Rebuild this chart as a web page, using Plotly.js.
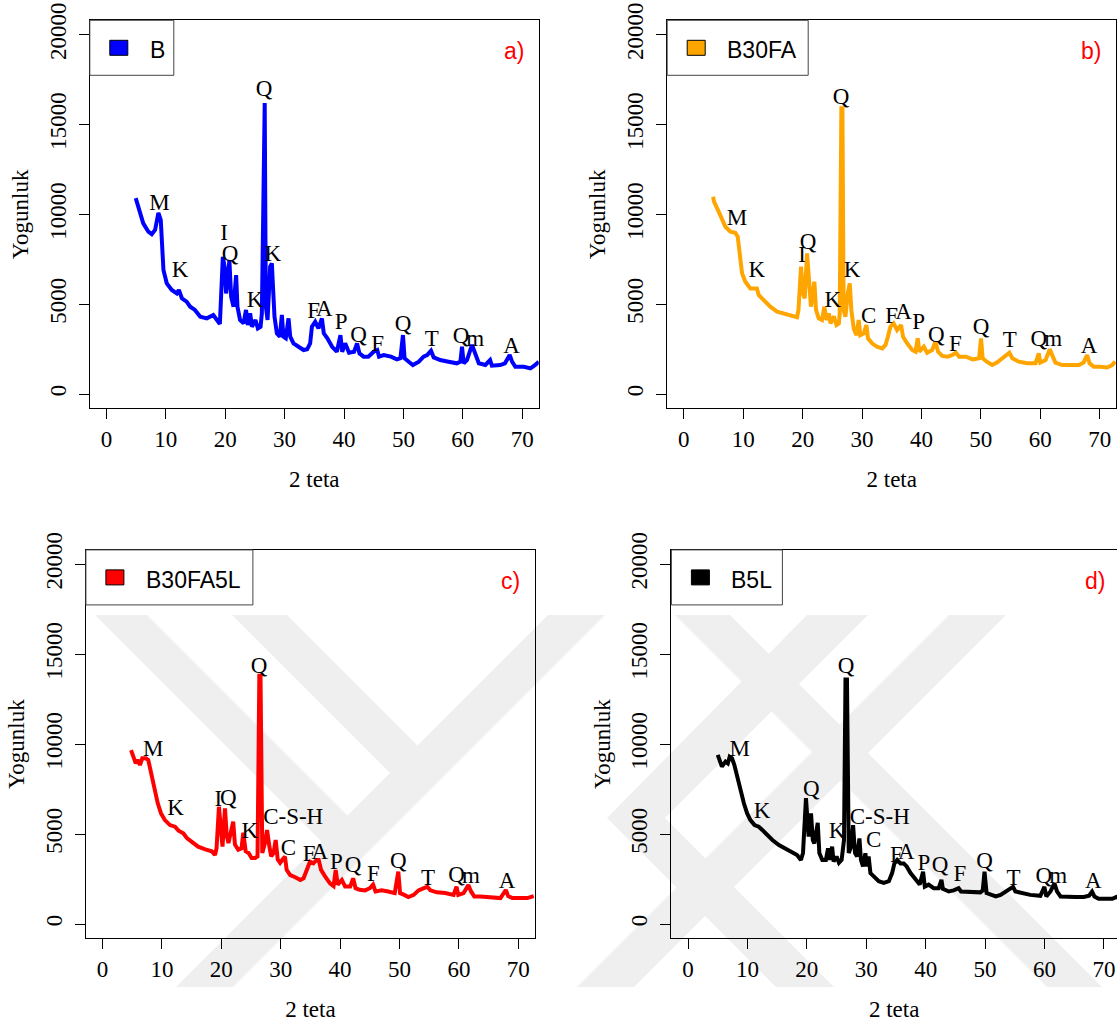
<!DOCTYPE html>
<html>
<head>
<meta charset="utf-8">
<script src="https://cdn.plot.ly/plotly-3.0.1.min.js"></script>
<style>
html,body{margin:0;padding:0;background:#fff;overflow:hidden;}
#chart{width:1117px;height:1022px;}
</style>
</head>
<body>
<div id="chart"></div>
<script>
// ---------------- DATA ----------------
const seriesNames = ["B", "B30FA", "B30FA5L", "B5L"];
const panelTags = ["a)", "b)", "c)", "d)"];
const seriesColors = ["#0000FF", "#FFA500", "#FF0000", "#000000"];

const xTicks = [0, 10, 20, 30, 40, 50, 60, 70];
const yTicks = [0, 5000, 10000, 15000, 20000];
const yTickText = ["0", "5000", "10000", "15000", "20000"];

// Panel a) B
const xB = [4.93,5.66,6.2,7.06,7.63,8.19,8.75,9.15,9.32,9.6,
  10.16,11.0,11.85,12.2,12.7,13.5,14.1,14.9,15.8,16.9,
  18.0,18.86,19.1,19.6,19.9,20.15,20.44,20.7,21.0,21.4,
  21.84,22.06,22.5,23.1,23.5,23.8,24.2,24.5,25.1,25.5,
  25.95,26.17,26.5,26.65,26.84,27.13,27.57,27.85,28.1,28.3,
  28.7,29.2,29.54,29.8,30.2,30.66,30.95,31.5,32.35,33.2,
  33.8,34.3,34.6,35.15,35.7,36.28,36.6,37.2,38.0,38.8,
  39.4,39.7,40.2,40.85,41.7,42.2,42.6,43.3,44.1,45.0,
  45.6,45.9,46.7,47.9,48.9,49.5,49.93,50.2,50.9,51.6,
  52.6,53.4,54.0,54.65,55.1,56.2,57.6,59.0,59.6,59.87,
  60.15,60.7,61.56,62.1,62.7,63.8,64.6,64.9,66.3,67.1,
  67.9,68.3,68.85,70.3,71.4,72.2,72.8];
const yB = [10900,10058,9500,9034,8890,9128,10080,9685,8200,6900,
  6160,5790,5600,5790,5330,5140,4860,4680,4300,4210,
  4400,4020,3900,7640,7090,5600,6345,7460,5415,4860,
  6620,4860,4120,3930,4680,3840,4490,3740,4120,3650,
  3740,4490,16200,16200,4860,4120,7090,7270,5600,4300,
  3380,3190,4400,3190,3100,4210,3190,2820,2630,2450,
  2490,2820,3750,4020,3650,4210,3380,3100,2630,2355,
  3280,2355,2820,2300,2355,2820,2260,2080,2080,2355,
  2450,2080,2170,2080,1930,1990,3280,1990,1800,1615,
  1800,2080,2170,2410,2040,1890,1800,1710,1800,2630,
  1710,1890,2730,2260,1710,1615,1890,1580,1615,1710,
  2170,1800,1520,1520,1430,1615,1800];

// Panel b) B30FA
const xB30FA = [4.92,5.1,5.87,6.43,7.0,7.83,8.67,9.07,9.4,9.8,
  10.35,11.2,12.3,12.6,13.45,14.56,15.7,16.8,17.9,19.06,
  19.3,19.73,20.07,20.35,20.74,21.0,21.4,21.97,22.25,22.7,
  23.25,23.66,24.0,24.4,24.7,25.25,25.7,26.1,26.24,26.52,
  26.7,26.9,27.2,27.6,27.93,28.2,28.6,29.05,29.44,29.7,
  30.3,30.73,31.0,31.7,32.5,33.4,33.95,34.35,34.77,35.3,
  35.9,36.57,36.9,37.6,38.45,39.0,39.37,39.65,40.4,40.95,
  41.8,42.35,42.8,43.5,44.4,45.2,45.8,46.35,47.5,48.6,
  49.7,50.03,50.3,51.0,51.9,52.7,53.6,54.15,54.8,55.3,
  56.4,57.8,59.2,59.75,60.0,60.9,61.6,62.0,62.55,63.7,
  65.1,66.5,67.3,67.88,68.3,69.0,70.1,71.25,72.1,72.6];
const yB30FA = [10980,10700,10150,9685,9310,9034,8980,8760,7640,6720,
  6250,5880,5880,5510,5230,4860,4580,4490,4400,4270,
  4680,7090,5600,5320,7830,6350,4860,6250,4680,4210,
  4120,4860,4120,4490,3930,4330,3840,3930,4490,15900,
  15900,4680,4300,5600,6160,4680,3650,3280,4120,3280,
  3380,3840,3100,2820,2630,2540,2730,3190,3750,3930,
  3560,3840,3190,2820,2450,2355,3100,2355,2630,2300,
  2450,2910,2355,2120,2080,2170,2300,2080,2080,1930,
  1990,3100,1990,1800,1615,1750,1990,2120,2300,1990,
  1800,1710,1710,2260,1750,1890,2490,2170,1750,1615,
  1615,1615,1750,2170,1710,1520,1520,1480,1615,1800];

// Panel c) B30FA5L
const xB30FA5L = [4.8,5.1,5.6,5.9,6.3,6.7,7.27,7.7,8.16,8.73,
  9.3,9.85,10.5,11.36,12.2,12.8,13.6,14.2,15.0,16.1,
  17.3,18.4,18.94,19.2,19.6,20.0,20.2,20.62,20.9,21.2,
  22.0,22.3,22.85,23.4,23.7,24.1,24.6,25.1,25.7,26.1,
  26.4,26.6,26.9,27.35,27.7,28.1,28.4,28.8,29.15,29.5,
  29.9,30.5,30.72,31.0,31.6,32.45,33.3,33.85,34.4,34.93,
  35.5,36.05,36.4,36.8,37.5,38.3,38.9,39.26,39.6,40.3,
  40.85,41.7,42.2,42.6,43.3,44.2,45.0,45.55,45.96,47.0,
  48.1,49.2,49.8,50.1,50.8,51.5,52.4,53.2,54.1,54.7,
  55.2,56.3,57.7,59.1,59.6,59.9,60.8,61.6,62.05,62.6,
  63.6,65.0,66.1,67.0,67.9,68.3,69.0,70.1,71.5,72.6];
const yB30FA5L = [9670,9400,8930,9120,8840,9210,9210,9120,8380,7450,
  6710,6150,5780,5500,5410,5190,5040,4780,4600,4300,
  4150,4040,3840,4210,6520,5040,4300,6430,4970,4500,
  5690,4410,4130,4210,5080,4040,3950,3670,3670,3760,
  13800,13800,3950,4500,5230,4300,3760,3950,4670,3580,
  3400,3670,3740,3010,2720,2600,2450,2540,3100,3460,
  3370,3560,3560,3010,2630,2260,2110,3000,2190,2450,
  2080,2080,2540,1990,1900,1870,1990,2190,1810,1870,
  1810,1720,2910,1720,1620,1500,1620,1870,1990,2070,
  1870,1760,1720,1620,2070,1620,1720,2170,1810,1530,
  1530,1500,1500,1440,1890,1550,1440,1440,1440,1550];

// Panel d) B5L
const xB5L = [5.0,5.3,5.7,6.3,6.7,7.0,7.4,7.8,8.25,8.8,
  9.4,9.95,10.5,11.2,11.9,12.5,13.3,14.2,15.3,16.4,
  17.5,18.35,19.0,19.35,19.85,20.05,20.3,20.7,21.0,21.25,
  21.83,22.1,22.6,23.2,23.57,23.85,24.25,24.5,25.0,25.4,
  25.85,26.25,26.5,26.75,27.05,27.45,27.78,28.1,28.45,28.85,
  29.1,29.45,29.85,30.1,30.4,30.7,31.25,32.1,32.95,33.8,
  34.35,34.73,35.2,35.75,36.3,36.8,37.45,38.3,39.0,39.56,
  39.85,40.5,41.35,42.2,42.65,42.9,43.9,44.7,45.55,45.95,
  46.9,48.0,49.2,49.6,49.9,50.25,50.9,51.8,52.6,53.45,
  54.2,54.7,55.1,56.2,57.6,59.3,59.98,60.3,61.0,61.67,
  62.1,62.7,63.8,65.2,66.6,67.5,68.0,68.4,69.1,70.25,
  71.4,72.1,72.8];
const yB5L = [9400,9120,8750,9030,8930,9300,9210,8840,8190,7450,
  6710,6150,5780,5500,5410,5230,4950,4670,4390,4210,
  4040,3840,3560,3950,7000,5780,4860,6150,4670,4480,
  5630,3950,3560,3560,4210,3560,4300,3470,3760,3400,
  3560,4670,13600,13600,3950,4300,5500,3950,3760,4760,
  3560,3200,3930,3200,3760,2830,2650,2380,2290,2380,
  2830,3370,3560,3370,3370,3200,2830,2450,2190,2910,
  2080,2190,1990,1990,2450,1960,1810,1870,1990,1810,
  1810,1810,1760,1870,2910,1720,1620,1530,1620,1810,
  1960,2070,1810,1720,1620,1570,2070,1530,1810,2260,
  1810,1530,1500,1500,1500,1570,1800,1530,1400,1400,
  1400,1500,1400];

// Peak annotations (phase letters) per panel
const peakLabelsB = ["M","K","I","Q","K","Q","K","F","A","P","Q","F","Q","T","Q","m","A"];
const peakXB = [8.92,12.4,19.8,20.83,25.04,26.56,28.0,34.9,36.67,39.5,42.45,45.66,49.93,54.8,59.7,62.1,68.2];
const peakYB = [10575,6860,8900,7740,5140,16920,7740,4550,4680,3930,3190,2730,3840,2970,3150,3000,2630];

const peakLabelsB30FA = ["M","K","I","Q","K","Q","K","C","F","A","P","Q","F","Q","T","Q","m","A"];
const peakXB30FA = [8.96,12.3,19.9,20.9,25.1,26.47,28.3,31.1,35.0,37.0,39.55,42.5,45.7,50.03,54.85,59.75,62.2,68.2];
const peakYB30FA = [9720,6860,7640,8390,5140,16460,6810,4300,4300,4490,3930,3190,2730,3650,2910,3000,3000,2630];

const peakLabelsB30FA5L = ["M","K","I","Q","K","Q","C-S-H","C","F","A","P","Q","F","Q","T","Q","m","A"];
const peakXB30FA5L = [8.55,12.3,19.5,21.2,24.8,26.35,32.1,31.3,34.8,36.6,39.4,42.2,45.6,49.8,54.8,59.6,62.05,68.1];
const peakYB30FA5L = [9670,6390,6890,6930,5080,14270,5880,4150,3840,3930,3370,3190,2720,3410,2490,2630,2600,2300];

const peakLabelsB5L = ["M","K","Q","K","Q","C-S-H","C","F","A","P","Q","F","Q","T","Q","m","A"];
const peakXB5L = [8.7,12.45,20.76,25.08,26.6,32.27,31.25,35.07,36.75,39.7,42.4,45.75,49.9,54.8,59.9,62.3,68.2];
const peakYB5L = [9640,6190,7450,5080,14270,5880,4610,3780,3930,3340,3190,2720,3410,2490,2600,2600,2300];

// ---------------- LAYOUT / STYLE ----------------
const W = 1117, H = 1022;
const px = v => v / W;
const py = v => 1 - v / H;

// pixel geometry of the four plot boxes: [left, right, top, bottom]
const boxes = [
  [89.8, 538.8, 20.3, 408.4],
  [667.2, 1116.3, 20.3, 408.4],
  [85.9, 534.9, 549.9, 938.4],
  [671.4, 1117, 549.9, 938.4]
];
const xRanges = [[-2.8, 72.8], [-2.8, 72.8], [-2.8, 72.8], [-2.8, 72.2]];
const legendWidths = [84, 141, 167, 111];

const serif = "Liberation Serif, Times New Roman, serif";
const sans = "Liberation Sans, Arial, sans-serif";
const tickFont = {family: serif, size: 23, color: "#000"};
const titleFont = {family: serif, size: 23, color: "#000"};

const seriesX = [xB, xB30FA, xB30FA5L, xB5L];
const seriesY = [yB, yB30FA, yB30FA5L, yB5L];
const labelsT = [peakLabelsB, peakLabelsB30FA, peakLabelsB30FA5L, peakLabelsB5L];
const labelsX = [peakXB, peakXB30FA, peakXB30FA5L, peakXB5L];
const labelsY = [peakYB, peakYB30FA, peakYB30FA5L, peakYB5L];

const traces = [];
const layout = {
  width: W, height: H,
  margin: {l: 0, r: 0, t: 0, b: 0},
  paper_bgcolor: "#ffffff",
  plot_bgcolor: "rgba(0,0,0,0)",
  showlegend: false,
  hovermode: false,
  font: {family: serif, color: "#000"},
  shapes: [],
  annotations: []
};

// watermark bands (light grey diagonal stripes behind the lower panels)
const wm = [
  [[95,615],[147,615],[347.5,815.5],[321.5,841.5]],
  [[232,615],[287,615],[417.5,745.5],[390,773]],
  [[176,987],[233,987],[605,615],[548,615]],
  [[577,987],[634,987],[1006,615],[949,615]],
  [[675,615],[730,615],[1102,987],[1047,987]],
  [[807,615],[868,615],[665,818],[834,987],[776,987],[607,818]]
];
wm.forEach(poly => {
  const p = poly.map((pt, i) => (i ? "L" : "M") + px(pt[0]).toFixed(5) + "," + py(pt[1]).toFixed(5)).join(" ") + " Z";
  layout.shapes.push({type: "path", path: p, xref: "paper", yref: "paper",
    fillcolor: "#efefef", line: {width: 0}, layer: "below"});
});

for (let i = 0; i < 4; i++) {
  const [L, R, T, B] = boxes[i];
  const xa = i === 0 ? "xaxis" : "xaxis" + (i + 1);
  const ya = i === 0 ? "yaxis" : "yaxis" + (i + 1);
  const xr = i === 0 ? "x" : "x" + (i + 1);
  const yr = i === 0 ? "y" : "y" + (i + 1);

  layout[xa] = {
    domain: [px(L), px(R)], range: xRanges[i], anchor: yr,
    tickmode: "array", tickvals: xTicks, ticktext: xTicks.map(String),
    ticks: "outside", ticklen: 10, tickwidth: 1, tickcolor: "#000",
    showline: true, mirror: true, linecolor: "#000", linewidth: 1,
    showgrid: false, zeroline: false, tickfont: tickFont,
    title: {text: "2 teta", font: titleFont, standoff: 19},
    fixedrange: true
  };
  layout[ya] = {
    domain: [py(B), py(T)], range: [-800, 20800], anchor: xr,
    tickmode: "array", tickvals: yTicks, ticktext: yTickText, tickangle: -90,
    ticks: "outside", ticklen: 10, tickwidth: 1, tickcolor: "#000",
    ticklabelstandoff: 4,
    showline: true, mirror: i !== 3, linecolor: "#000", linewidth: 1,
    showgrid: false, zeroline: false, tickfont: tickFont,
    title: {text: "Yogunluk", font: titleFont, standoff: 10},
    fixedrange: true
  };

  traces.push({
    type: "scatter", mode: "lines", x: seriesX[i], y: seriesY[i],
    xaxis: xr, yaxis: yr, name: seriesNames[i],
    line: {color: seriesColors[i], width: 4, shape: "linear"},
    cliponaxis: true
  });
  traces.push({
    type: "scatter", mode: "text", x: labelsX[i], y: labelsY[i], text: labelsT[i],
    xaxis: xr, yaxis: yr, textposition: "middle center",
    textfont: {family: serif, size: 23, color: "#000"}, cliponaxis: false
  });

  // legend box
  layout.shapes.push({type: "rect", xref: "paper", yref: "paper",
    x0: px(L), x1: px(L + legendWidths[i]), y0: py(T), y1: py(T + 55),
    line: {color: "#444", width: 1}, fillcolor: "rgba(0,0,0,0)", layer: "above"});
  layout.shapes.push({type: "rect", xref: "paper", yref: "paper",
    x0: px(L + 20), x1: px(L + 38), y0: py(T + 20), y1: py(T + 35),
    line: {color: "#000", width: 1}, fillcolor: seriesColors[i], layer: "above"});
  layout.annotations.push({xref: "paper", yref: "paper", x: px(L + 58), y: py(T + 30),
    xanchor: "left", yanchor: "middle", showarrow: false, text: seriesNames[i],
    font: {family: sans, size: 23, color: "#000"}});
  // panel tag
  const tagRight = i === 3 ? 1107 : R - 13;
  layout.annotations.push({xref: "paper", yref: "paper", x: px(tagRight), y: py(T + 31),
    xanchor: "right", yanchor: "middle", showarrow: false, text: panelTags[i],
    font: {family: sans, size: 23, color: "#FF0000"}});
}

Plotly.newPlot("chart", traces, layout, {displayModeBar: false, staticPlot: true});
</script>
</body>
</html>
